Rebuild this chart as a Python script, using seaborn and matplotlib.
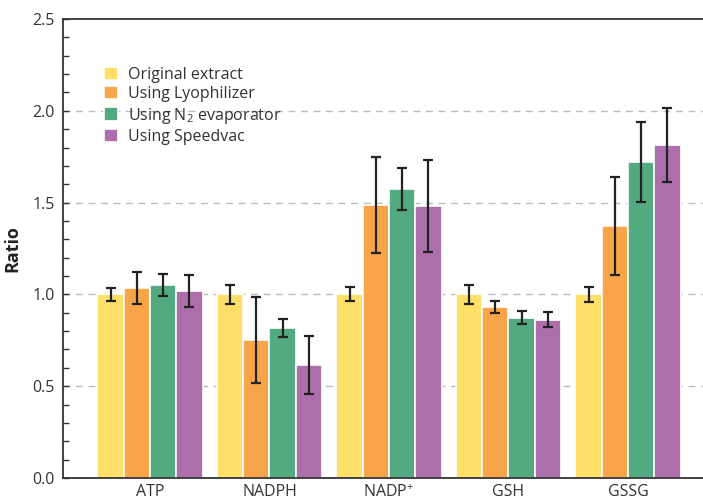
import numpy as np
import pandas as pd
import matplotlib
matplotlib.use("Agg")
import matplotlib.pyplot as plt
from matplotlib.ticker import MultipleLocator
import seaborn as sns

# ---------- DATA ----------
metabolites = ['ATP', 'NADPH', 'NADP$^{+}$', 'GSH', 'GSSG']
methods = ['Original extract', 'Using Lyophilizer',
           'Using N$_2$ evaporator', 'Using Speedvac']

original = [1.00, 1.00, 1.00, 1.00, 1.00]
lyophilizer = [1.035, 0.752, 1.487, 0.933, 1.373]
n2_evap = [1.051, 0.817, 1.574, 0.873, 1.721]
speedvac = [1.018, 0.615, 1.482, 0.862, 1.813]

original_err = [0.035, 0.053, 0.038, 0.052, 0.040]
lyophilizer_err = [0.085, 0.235, 0.264, 0.033, 0.267]
n2_evap_err = [0.062, 0.047, 0.116, 0.034, 0.220]
speedvac_err = [0.087, 0.156, 0.252, 0.040, 0.202]

colors = ['#FEDF6A', '#F8A54A', '#53AA80', '#AC6FAC']

# ---------- BUILD TABLE ----------
values = [original, lyophilizer, n2_evap, speedvac]
errors = [original_err, lyophilizer_err, n2_evap_err, speedvac_err]
rows = []
for m, vals, errs in zip(methods, values, errors):
    for met, v, e in zip(metabolites, vals, errs):
        rows.append({'Metabolite': met, 'Method': m, 'Ratio': v, 'Err': e})
df = pd.DataFrame(rows)

# ---------- PLOT ----------
sns.set_style("ticks")
plt.rcParams['font.family'] = ['Open Sans', 'DejaVu Sans']
plt.rcParams['mathtext.fontset'] = 'custom'
plt.rcParams['mathtext.rm'] = 'Open Sans'

fig = plt.figure(figsize=(7.03, 5.0), dpi=100)
ax = fig.add_axes([0.0896, 0.044, 0.9104, 0.918])

sns.barplot(data=df, x='Metabolite', y='Ratio', hue='Method',
            order=metabolites, hue_order=methods, palette=colors,
            width=0.88, errorbar=None, edgecolor='white', linewidth=1.2,
            saturation=1, ax=ax)

# error bars at the bar centres
for cont, errs in zip(ax.containers, errors):
    xs = [p.get_x() + p.get_width() / 2 for p in cont.patches]
    ys = [p.get_height() for p in cont.patches]
    ax.errorbar(xs, ys, yerr=errs, fmt='none', ecolor='#222222',
                elinewidth=1.6, capsize=3.5, capthick=1.6, zorder=5)

ax.set_ylim(0, 2.5)
ax.set_xlim(-0.728, 4.628)
ax.yaxis.set_major_locator(MultipleLocator(0.5))
ax.yaxis.set_minor_locator(MultipleLocator(0.1))
ax.yaxis.set_major_formatter(matplotlib.ticker.FormatStrFormatter('%.1f'))
for g in [0.5, 1.0, 1.5, 2.0]:
    ax.axhline(g, color='#BBBBBB', linestyle=(0, (5, 4)), linewidth=1.0, zorder=0)

ax.tick_params(axis='y', which='both', direction='in', length=4, width=1.0,
               color='#333333', labelsize=11.5, labelcolor='#333333', pad=6)
ax.tick_params(axis='x', length=0, labelsize=11.5, labelcolor='#333333', pad=4)
ax.set_xlabel('')
ax.set_ylabel('Ratio', fontsize=13, fontweight='bold', color='#222222', labelpad=8)

for side in ['left', 'top', 'bottom']:
    ax.spines[side].set_color('#333333')
    ax.spines[side].set_linewidth(1.3)
ax.spines['right'].set_visible(False)

ax.legend(loc='upper left', bbox_to_anchor=(0.041, 0.927), frameon=False,
          fontsize=11.5, handlelength=0.9, handleheight=0.9,
          handletextpad=0.6, labelspacing=0.2, labelcolor='#333333')

fig.savefig('out.png', dpi=100)
